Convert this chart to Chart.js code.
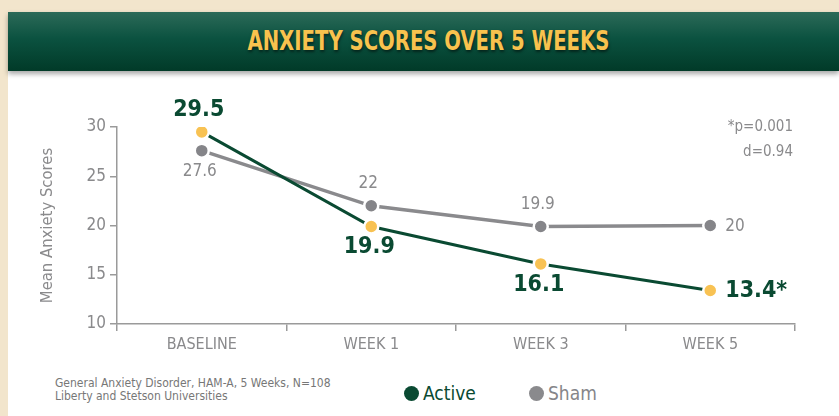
<!DOCTYPE html>
<html>
<head>
<meta charset="utf-8">
<script src="https://cdn.jsdelivr.net/npm/chart.js@4.4.1/dist/chart.umd.min.js"></script>
<style>
  html, body { margin: 0; padding: 0; }
  body {
    width: 839px; height: 416px; overflow: hidden; position: relative;
    background: #f2e5cc;
    font-family: "DejaVu Sans Condensed", "Roboto", sans-serif;
  }
  #panel {
    position: absolute; left: 8px; top: 60px; width: 831px; height: 356px;
    background: #ffffff;
  }
  #banner {
    position: absolute; left: 8px; top: 12px; width: 831px; height: 59px;
    background: linear-gradient(#2c6a58 0%, #0b5240 45%, #013a28 100%);
    box-shadow: 0 3px 5px rgba(0,0,0,0.35);
    text-align: center; line-height: 59px;
  }
  #banner span {
    display: inline-block; transform: scaleX(0.84);
    color: #f8c24e; font-weight: bold; font-size: 26px;
    text-shadow: 1px 2px 3px rgba(0,0,0,0.5);
    margin-left: 9px;
  }
  #chartBox { position: absolute; left: 8px; top: 72px; width: 831px; height: 300px; }
  #note {
    position: absolute; left: 55px; top: 377px; font-size: 12px; line-height: 13px; color: #777;
  }
  .leg { position: absolute; top: 382px; font-size: 19px; line-height: 22px; }
  .leg .dot { display: inline-block; width: 15px; height: 15px; border-radius: 50%; vertical-align: -1px; margin-right: 4px; }
</style>
</head>
<body>
<div id="panel"></div>
<div id="banner"><span>ANXIETY SCORES OVER 5 WEEKS</span></div>
<div id="chartBox"><canvas id="chart"></canvas></div>
<div id="note">General Anxiety Disorder, HAM-A, 5 Weeks, N=108<br>Liberty and Stetson Universities</div>
<div class="leg" style="left:404px;color:#0a4a32;"><span class="dot" style="background:#0a4a32"></span>Active</div>
<div class="leg" style="left:529px;color:#858589;"><span class="dot" style="background:#8a8a8d"></span>Sham</div>
<script>
const weeks = ['BASELINE', 'WEEK 1', 'WEEK 3', 'WEEK 5'];
const active = [29.5, 19.9, 16.1, 13.4];
const sham = [27.6, 22, 19.9, 20];
const activeLabels = ['29.5', '19.9', '16.1', '13.4*'];
const shamLabels = ['27.6', '22', '19.9', '20'];
// where each label sits relative to its point
const activePos = ['above', 'below', 'below', 'right'];
const shamPos = ['below', 'above', 'above', 'right'];
const yTicks = [10, 15, 20, 25, 30];

const GREEN = '#0a4a32';
const GRAY = '#8a8a8d';
const TXT = '#8a8a8c';
const FONT = '"DejaVu Sans Condensed", sans-serif';

const pointLabels = {
  id: 'pointLabels',
  afterDatasetsDraw(chart) {
    const ctx = chart.ctx;
    const sets = [
      { i: 0, labels: activeLabels, pos: activePos, font: 'bold 23px ' + FONT, color: GREEN, gap: 20 },
      { i: 1, labels: shamLabels, pos: shamPos, font: '17px ' + FONT, color: TXT, gap: 20 }
    ];
    ctx.save();
    sets.forEach(s => {
      const meta = chart.getDatasetMeta(s.i);
      ctx.font = s.font;
      ctx.fillStyle = s.color;
      meta.data.forEach((pt, k) => {
        const p = s.pos[k];
        if (p === 'right') {
          ctx.textAlign = 'left'; ctx.textBaseline = 'middle';
          ctx.fillText(s.labels[k], pt.x + 15, pt.y + 1);
        } else if (p === 'above') {
          ctx.textAlign = 'center'; ctx.textBaseline = 'middle';
          ctx.fillText(s.labels[k], pt.x - 3, pt.y - s.gap - 2);
        } else {
          ctx.textAlign = 'center'; ctx.textBaseline = 'middle';
          ctx.fillText(s.labels[k], pt.x - 2, pt.y + s.gap + 1);
        }
      });
    });
    // significance note
    ctx.font = '15px ' + FONT;
    ctx.fillStyle = TXT;
    ctx.textAlign = 'right'; ctx.textBaseline = 'middle';
    ctx.fillText('*p=0.001', 785, 55);
    ctx.fillText('d=0.94', 785, 80);
    ctx.restore();
  }
};

new Chart(document.getElementById('chart'), {
  type: 'line',
  data: {
    labels: weeks,
    datasets: [
      {
        label: 'Active', data: active,
        borderColor: GREEN, borderWidth: 3,
        pointBackgroundColor: '#f8c253', pointBorderColor: '#ffffff', pointBorderWidth: 2.5,
        pointRadius: 7, tension: 0
      },
      {
        label: 'Sham', data: sham,
        borderColor: GRAY, borderWidth: 3.5,
        pointBackgroundColor: '#858589', pointBorderColor: '#ffffff', pointBorderWidth: 2.5,
        pointRadius: 7, tension: 0
      }
    ]
  },
  options: {
    responsive: true,
    maintainAspectRatio: false,
    animation: false,
    layout: { padding: { top: 55, right: 44, bottom: 8, left: 30 } },
    plugins: { legend: { display: false }, tooltip: { enabled: false } },
    scales: {
      x: {
        offset: true,
        afterFit: s => { s.height = 40; },
        grid: { display: true, drawOnChartArea: false, offset: true, color: '#9a9a9a', lineWidth: 1.5, tickLength: 7 },
        border: { color: '#9a9a9a', width: 1.5 },
        ticks: { color: TXT, font: { family: FONT, size: 16 }, padding: 4 }
      },
      y: {
        min: 10, max: 30,
        afterFit: s => { s.width = 79; },
        afterBuildTicks: s => { s.ticks = yTicks.map(v => ({ value: v })); },
        grid: { display: true, drawOnChartArea: false, color: '#9a9a9a', lineWidth: 1.5, tickLength: 7 },
        border: { color: '#9a9a9a', width: 1.5 },
        ticks: { color: TXT, font: { family: FONT, size: 17 }, padding: 4 },
        title: { display: true, text: 'Mean Anxiety Scores', color: TXT, font: { family: FONT, size: 16.5 }, padding: { top: 0, bottom: 6 } }
      }
    }
  },
  plugins: [pointLabels]
});
</script>
</body>
</html>
